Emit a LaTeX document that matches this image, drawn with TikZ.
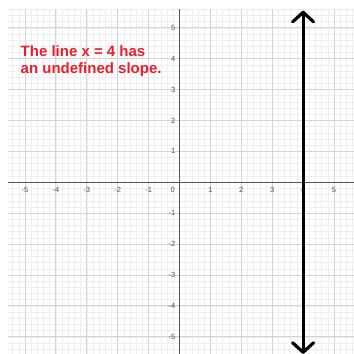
\documentclass[tikz,border=0pt]{standalone}
\usepackage{fontspec}
\setmainfont{Liberation Sans}
\usetikzlibrary{calc}
\definecolor{minorgrid}{HTML}{EFEFEF}
\definecolor{majorgrid}{HTML}{D4D4D4}
\definecolor{axiscol}{HTML}{555555}
\definecolor{labelcol}{HTML}{505050}
\definecolor{msgred}{RGB}{236,30,45}
\begin{document}
\begin{tikzpicture}[x=1pt,y=-1pt,
  minorline/.style={draw=minorgrid,line width=0.6pt},
  majorline/.style={draw=majorgrid,line width=0.9pt},
  axisline/.style={draw=axiscol,line width=1pt},
  ticklabel/.style={text=labelcol,font=\fontsize{7.5}{8}\selectfont,inner sep=0pt},
  message/.style={text=msgred,font=\fontsize{15}{17}\bfseries\selectfont,align=left,inner sep=0pt,anchor=base west},
  vline/.style={draw=black,line width=3.2pt,line cap=round,line join=round}]
\useasboundingbox (0,0) rectangle (354,354);
\fill[white] (0,0) rectangle (354,354);
\def\ox{179.5}
\def\oy{182.3}
\def\u{30.9}
\begin{scope}
\clip (8,9) rectangle (354,354);
\foreach \i in {-30,...,30}{
  \draw[minorline] ({\ox+\i*\u/5},0) -- ({\ox+\i*\u/5},354);
  \draw[minorline] (0,{\oy+\i*\u/5}) -- (354,{\oy+\i*\u/5});
}
\foreach \i in {-6,...,6}{
  \draw[majorline] ({\ox+\i*\u},0) -- ({\ox+\i*\u},354);
  \draw[majorline] (0,{\oy+\i*\u}) -- (354,{\oy+\i*\u});
}
\end{scope}
\coordinate (xl) at (8,\oy);
\coordinate (xr) at (354,\oy);
\coordinate (yt) at (\ox,9);
\coordinate (yb) at (\ox,354);
\draw[axisline] (xl) -- (xr);
\draw[axisline] (yt) -- (yb);
\foreach \i in {-5,-4,-3,-2,-1,1,2,3,4,5}{
  \node[ticklabel] (xlab\i) at ({\ox+\i*\u},189.5) {\i\vphantom{0}};
  \node[ticklabel,anchor=east] (ylab\i) at (175.5,{\oy-\i*\u}) {\i};
}
\node[ticklabel] (zero) at (172.7,189.5) {0};
\node[message] (msg) at (20.5,73.8) {The line x = 4 has\\an undefined slope.};
\coordinate (top) at ({\ox+4*\u},{\oy-5.5*\u});
\coordinate (bot) at ({\ox+4*\u},{\oy+5.5*\u});
\draw[vline] (top) -- (bot);
\draw[vline] ($(top)+(-10.5,9.5)$) -- (top) -- ($(top)+(10.5,9.5)$);
\draw[vline] ($(bot)+(-10.5,-9.5)$) -- (bot) -- ($(bot)+(10.5,-9.5)$);
\end{tikzpicture}
\end{document}
